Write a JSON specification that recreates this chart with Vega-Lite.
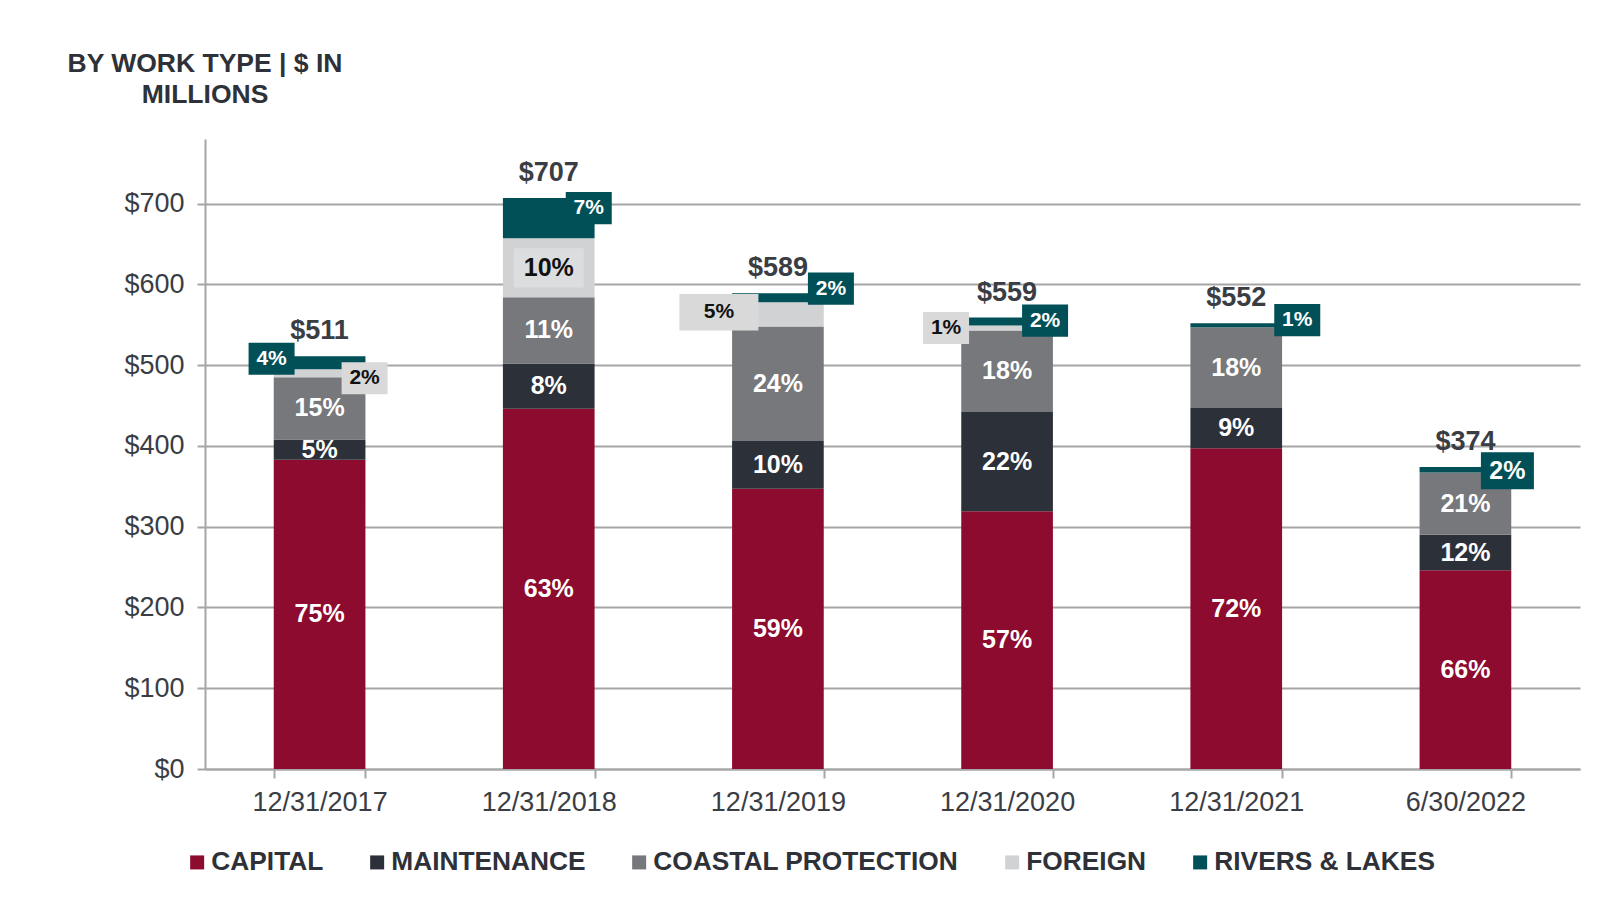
{
  "$schema": "https://vega.github.io/schema/vega-lite/v6.json",
  "width": 1375,
  "height": 630,
  "autosize": {"type": "none"},
  "padding": {"left": 205, "top": 139, "right": 24, "bottom": 133},
  "background": "white",
  "config": {"view": {"stroke": null}},
  "title": {
    "text": ["BY WORK TYPE | $ IN", "MILLIONS"],
    "anchor": "start",
    "frame": "group",
    "align": "center",
    "baseline": "bottom",
    "offset": 4,
    "font": "Liberation Sans",
    "fontSize": 26.5,
    "fontWeight": "bold",
    "color": "#2e3138",
    "lineHeight": 31
  },
  "data": {
    "values": [
      {"date": "12/31/2017", "series": "CAPITAL", "value": 383, "pct": "75%"},
      {"date": "12/31/2017", "series": "MAINTENANCE", "value": 25, "pct": "5%"},
      {"date": "12/31/2017", "series": "COASTAL PROTECTION", "value": 77, "pct": "15%"},
      {"date": "12/31/2017", "series": "FOREIGN", "value": 10, "pct": "2%"},
      {"date": "12/31/2017", "series": "RIVERS & LAKES", "value": 16, "pct": "4%"},
      {"date": "12/31/2018", "series": "CAPITAL", "value": 446, "pct": "63%"},
      {"date": "12/31/2018", "series": "MAINTENANCE", "value": 56, "pct": "8%"},
      {"date": "12/31/2018", "series": "COASTAL PROTECTION", "value": 82, "pct": "11%"},
      {"date": "12/31/2018", "series": "FOREIGN", "value": 73, "pct": "10%"},
      {"date": "12/31/2018", "series": "RIVERS & LAKES", "value": 50, "pct": "7%"},
      {"date": "12/31/2019", "series": "CAPITAL", "value": 347, "pct": "59%"},
      {"date": "12/31/2019", "series": "MAINTENANCE", "value": 59, "pct": "10%"},
      {"date": "12/31/2019", "series": "COASTAL PROTECTION", "value": 142, "pct": "24%"},
      {"date": "12/31/2019", "series": "FOREIGN", "value": 30, "pct": "5%"},
      {"date": "12/31/2019", "series": "RIVERS & LAKES", "value": 11, "pct": "2%"},
      {"date": "12/31/2020", "series": "CAPITAL", "value": 319, "pct": "57%"},
      {"date": "12/31/2020", "series": "MAINTENANCE", "value": 123, "pct": "22%"},
      {"date": "12/31/2020", "series": "COASTAL PROTECTION", "value": 101, "pct": "18%"},
      {"date": "12/31/2020", "series": "FOREIGN", "value": 6, "pct": "1%"},
      {"date": "12/31/2020", "series": "RIVERS & LAKES", "value": 10, "pct": "2%"},
      {"date": "12/31/2021", "series": "CAPITAL", "value": 397, "pct": "72%"},
      {"date": "12/31/2021", "series": "MAINTENANCE", "value": 50, "pct": "9%"},
      {"date": "12/31/2021", "series": "COASTAL PROTECTION", "value": 100, "pct": "18%"},
      {"date": "12/31/2021", "series": "RIVERS & LAKES", "value": 5, "pct": "1%"},
      {"date": "6/30/2022", "series": "CAPITAL", "value": 246, "pct": "66%"},
      {"date": "6/30/2022", "series": "MAINTENANCE", "value": 44, "pct": "12%"},
      {"date": "6/30/2022", "series": "COASTAL PROTECTION", "value": 77, "pct": "21%"},
      {"date": "6/30/2022", "series": "RIVERS & LAKES", "value": 7, "pct": "2%"}
    ]
  },
  "transform": [
    {"calculate": "indexof(['CAPITAL','MAINTENANCE','COASTAL PROTECTION','FOREIGN','RIVERS & LAKES'], datum.series)", "as": "k"},
    {"calculate": "indexof(['12/31/2017','12/31/2018','12/31/2019','12/31/2020','12/31/2021','6/30/2022'], datum.date)", "as": "i"},
    {"stack": "value", "groupby": ["date"], "sort": [{"field": "k", "order": "ascending"}], "as": ["y0", "y1"]},
    {"calculate": "(datum.y0 + datum.y1) / 2", "as": "mid"}
  ],
  "encoding": {
    "x": {
      "field": "date",
      "type": "nominal",
      "sort": ["12/31/2017", "12/31/2018", "12/31/2019", "12/31/2020", "12/31/2021", "6/30/2022"],
      "scale": {"paddingInner": 0.6, "paddingOuter": 0.3},
      "axis": {
        "title": null,
        "labelAngle": 0,
        "labelFont": "Liberation Sans",
        "labelFontSize": 27,
        "labelColor": "#3a3d44",
        "labelPadding": 11,
        "tickBand": "extent",
        "tickSize": 9,
        "tickWidth": 2,
        "tickColor": "#a6a6a6",
        "domainColor": "#a6a6a6",
        "domainWidth": 2
      }
    }
  },
  "layer": [
    {
      "mark": {"type": "bar"},
      "encoding": {
        "y": {
          "field": "y1",
          "type": "quantitative",
          "scale": {"domain": [0, 780], "nice": false},
          "axis": {
            "title": null,
            "values": [0, 100, 200, 300, 400, 500, 600, 700],
            "format": "$d",
            "labelFont": "Liberation Sans",
            "labelFontSize": 27,
            "labelColor": "#3a3d44",
            "labelPadding": 13,
            "tickSize": 8,
            "tickWidth": 2,
            "tickColor": "#a6a6a6",
            "domainColor": "#a6a6a6",
            "domainWidth": 2,
            "grid": true,
            "gridColor": "#a6a6a6",
            "gridWidth": 2
          }
        },
        "y2": {"field": "y0"},
        "color": {
          "field": "series",
          "type": "nominal",
          "scale": {
            "domain": ["CAPITAL", "MAINTENANCE", "COASTAL PROTECTION", "FOREIGN", "RIVERS & LAKES"],
            "range": ["#8c0b2e", "#2c3038", "#77787b", "#d1d2d4", "#014f57"]
          },
          "legend": {
            "title": null,
            "orient": "none",
            "direction": "horizontal",
            "legendX": -21,
            "legendY": 710,
            "padding": 0,
            "symbolType": "square",
            "symbolSize": 196,
            "symbolStrokeWidth": 0,
            "labelFont": "Liberation Sans",
            "labelFontSize": 26.3,
            "labelFontWeight": "bold",
            "labelColor": "#2e3138",
            "labelOffset": 1,
            "columnPadding": 40,
            "labelLimit": 400
          }
        }
      }
    },
    {
      "transform": [{"filter": "datum.series == 'FOREIGN' && datum.i == 1"}],
      "mark": {"type": "point", "filled": true, "opacity": 1, "color": "#dcdddf", "shape": "M-1,-0.56L1,-0.56L1,0.56L-1,0.56Z", "size": 4900},
      "encoding": {"y": {"field": "mid", "type": "quantitative", "axis": {"title": null}}}
    },
    {
      "transform": [{"filter": "datum.k <= 2 || (datum.k == 3 && datum.i == 1)"}],
      "mark": {
        "type": "text",
        "font": "Liberation Sans",
        "fontSize": 25,
        "fontWeight": "bold",
        "baseline": "middle",
        "fill": {"expr": "datum.k == 3 ? '#111111' : '#ffffff'"}
      },
      "encoding": {
        "y": {"field": "mid", "type": "quantitative", "axis": {"title": null}},
        "text": {"field": "pct"}
      }
    },
    {
      "transform": [{"filter": "datum.k == 4 || (datum.k == 3 && datum.i != 1)"}],
      "mark": {
        "type": "point",
        "filled": true,
        "opacity": 1,
        "strokeWidth": 0,
        "fill": {"expr": "datum.k == 4 ? '#014f57' : '#d9d9d9'"},
        "shape": {"expr": "(datum.k == 3 && datum.i == 2) ? 'M-1,-0.46L1,-0.46L1,0.46L-1,0.46Z' : 'M-1,-0.7L1,-0.7L1,0.7L-1,0.7Z'"},
        "size": {"expr": "(datum.k == 4 && datum.i == 5) ? 2809 : ((datum.k == 3 && datum.i == 2) ? 6241 : 2116)"},
        "xOffset": {"expr": "datum.k == 4 ? [-48,40,53,38,61,42][datum.i] : [45,0,-59,-61,0,0][datum.i]"},
        "yOffset": {"expr": "datum.k == 4 ? [-4,-10,-9,-1,-5,1][datum.i] : [5,0,-2,0,0,0][datum.i]"}
      },
      "encoding": {"y": {"field": "mid", "type": "quantitative", "axis": {"title": null}}}
    },
    {
      "transform": [{"filter": "datum.k == 4 || (datum.k == 3 && datum.i != 1)"}],
      "mark": {
        "type": "text",
        "font": "Liberation Sans",
        "fontWeight": "bold",
        "baseline": "middle",
        "fontSize": {"expr": "(datum.k == 4 && datum.i == 5) ? 25 : 21"},
        "fill": {"expr": "datum.k == 4 ? '#ffffff' : '#111111'"},
        "xOffset": {"expr": "datum.k == 4 ? [-48,40,53,38,61,42][datum.i] : [45,0,-59,-61,0,0][datum.i]"},
        "yOffset": {"expr": "datum.k == 4 ? [-4,-10,-9,-1,-5,1][datum.i] : [5,0,-2,0,0,0][datum.i]"}
      },
      "encoding": {
        "y": {"field": "mid", "type": "quantitative", "axis": {"title": null}},
        "text": {"field": "pct"}
      }
    },
    {
      "transform": [{"aggregate": [{"op": "sum", "field": "value", "as": "total"}], "groupby": ["date"]}],
      "mark": {
        "type": "text",
        "font": "Liberation Sans",
        "fontSize": 27,
        "fontWeight": "bold",
        "baseline": "alphabetic",
        "dy": -17,
        "color": "#3a3d44"
      },
      "encoding": {
        "y": {"field": "total", "type": "quantitative", "axis": {"title": null}},
        "text": {"field": "total", "type": "quantitative", "format": "$d"}
      }
    }
  ]
}
